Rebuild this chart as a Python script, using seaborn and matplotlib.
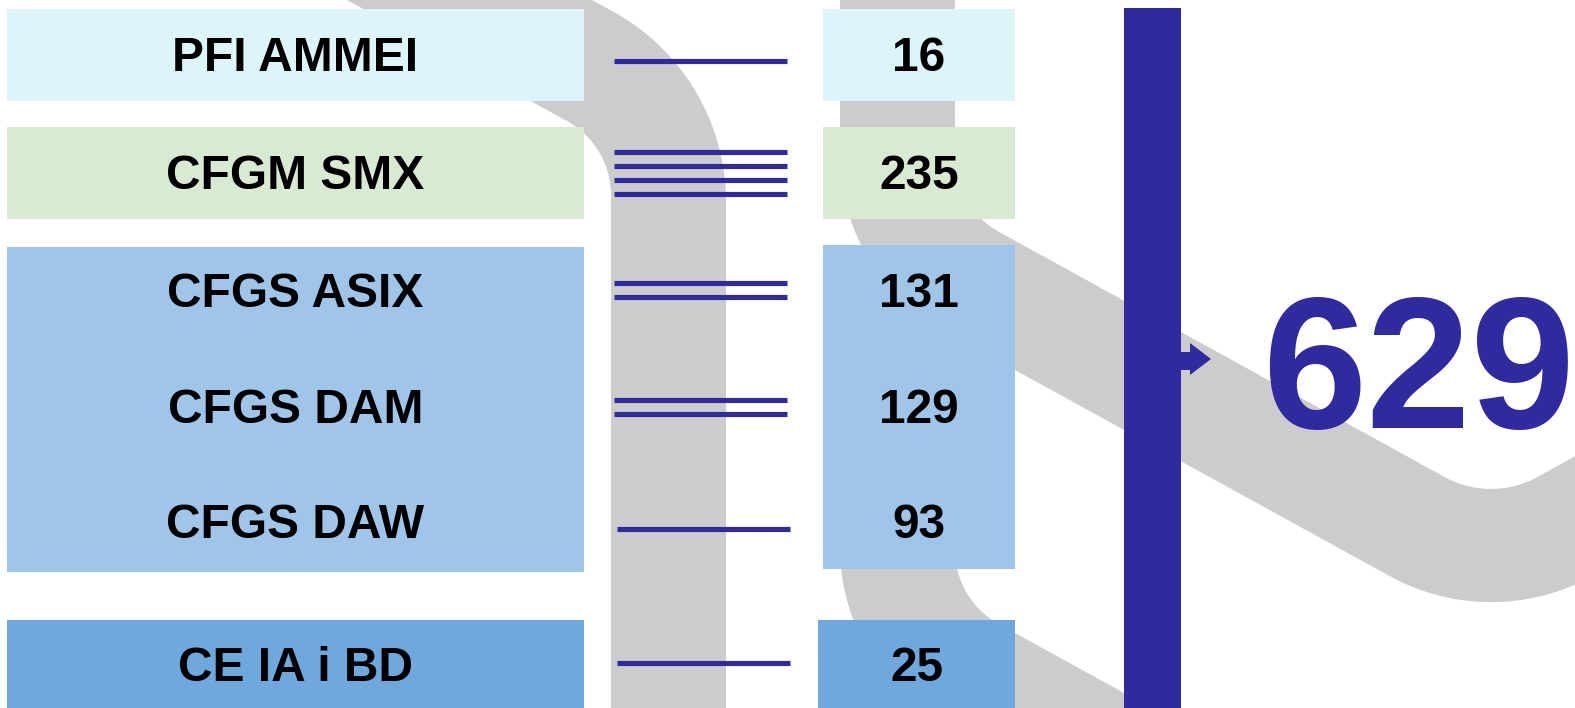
import numpy as np
import pandas as pd
import matplotlib
matplotlib.use("Agg")
import matplotlib.pyplot as plt
from matplotlib.patches import Rectangle, Polygon
import seaborn as sns

# ---------------- data ----------------
labels = ["PFI AMMEI", "CFGM SMX", "CFGS ASIX", "CFGS DAM", "CFGS DAW", "CE IA i BD"]
values = [16, 235, 131, 129, 93, 25]
groups = [1, 4, 2, 2, 1, 1]          # number of lines drawn per programme
levels = ["PFI", "CFGM", "CFGS", "CFGS", "CFGS", "CE"]
level_names = ["PFI", "CFGM", "CFGS", "CE"]
level_colors = ["#DDF4F9", "#D9EAD3", "#9FC5E8", "#6FA8DC"]
total = sum(values)

# ---------------- style ----------------
sns.set_theme(style="white")
plt.rcParams["font.family"] = ["Liberation Sans", "DejaVu Sans"]
DARK = "#2F2A9F"
GRAY = "#CCCCCC"

W, H = 1575, 708
fig = plt.figure(figsize=(W / 100, H / 100), dpi=100)
ax = fig.add_axes([0, 0, 1, 1])

# ---------------- layout (pixels) ----------------
left_box_x = (7, 584)
level_left_y = {"PFI": (9, 101), "CFGM": (127, 219), "CFGS": (247, 572), "CE": (620, 720)}
level_num_y = {"PFI": (9, 101), "CFGM": (127, 219), "CFGS": (245, 569), "CE": (620, 720)}
num_box_x = [(823, 1015), (823, 1015), (823, 1015), (823, 1015), (823, 1015), (818, 1015)]
baselines = [71, 189, 307, 423, 538, 681]
line_centers = [61, 173, 290, 407, 529, 663]
line_x = [(614, 787)] * 4 + [(617, 790)] * 2
line_gap = 14


def fillet(points, radii, n=60):
    pts = [np.array(p, float) for p in points]
    out = [pts[0]]
    for i in range(1, len(pts) - 1):
        A, B, C = pts[i - 1], pts[i], pts[i + 1]
        r = radii[i - 1]
        u1 = (A - B) / np.linalg.norm(A - B)
        u2 = (C - B) / np.linalg.norm(C - B)
        half = np.arccos(np.clip(u1 @ u2, -1, 1)) / 2
        t = r / np.tan(half)
        T1, T2 = B + u1 * t, B + u2 * t
        bis = (u1 + u2) / np.linalg.norm(u1 + u2)
        Cc = B + bis * r / np.sin(half)
        a1 = np.arctan2(T1[1] - Cc[1], T1[0] - Cc[0])
        a2 = np.arctan2(T2[1] - Cc[1], T2[0] - Cc[0])
        d = (a2 - a1 + np.pi) % (2 * np.pi) - np.pi
        for a in np.linspace(a1, a1 + d, n):
            out.append(Cc + r * np.array([np.cos(a), np.sin(a)]))
    out.append(pts[-1])
    return np.array(out)


def band(left, lr, right, rr):
    e1 = fillet(left, lr)
    e2 = fillet(right, rr)
    poly = np.vstack([e1, e2[::-1]])
    ax.add_patch(Polygon(poly, closed=True, facecolor=GRAY, edgecolor="none", zorder=1))


# background grey bands
band([(247, -55), (611, 145.2), (611, 760)], [85],
     [(492, -55), (726, 73.7), (726, 760)], [217])
band([(840, -60), (840, 273.75), (1491, 631.8), (1800, 461.9)], [200, 210],
     [(955, -60), (955, 207.7), (1491, 502.5), (1800, 332.5)], [85, 96])
band([(840, 300), (840, 666), (1400, 974)], [200],
     [(955, 300), (955, 600), (1400, 844.75)], [85])

# label boxes and number boxes
for lv, col in zip(level_names, level_colors):
    y0, y1 = level_left_y[lv]
    ax.add_patch(Rectangle((left_box_x[0], y0), left_box_x[1] - left_box_x[0], y1 - y0,
                           facecolor=col, edgecolor="none", zorder=2))
    idx = levels.index(lv)
    nx0, nx1 = num_box_x[idx]
    ny0, ny1 = level_num_y[lv]
    ax.add_patch(Rectangle((nx0, ny0), nx1 - nx0, ny1 - ny0,
                           facecolor=col, edgecolor="none", zorder=2))

# blue lines (one per group) drawn with seaborn
rows = []
seg = 0
for i, g in enumerate(groups):
    offs = (np.arange(g) - (g - 1) / 2) * line_gap
    for o in offs:
        for xx in line_x[i]:
            rows.append({"x": xx, "y": line_centers[i] + o, "seg": seg})
        seg += 1
df = pd.DataFrame(rows)
sns.lineplot(data=df, x="x", y="y", units="seg", estimator=None, sort=False,
             color=DARK, linewidth=3.7, ax=ax, legend=False, zorder=3,
             solid_capstyle="butt")

# texts
for i, (lab, val) in enumerate(zip(labels, values)):
    ax.text(sum(left_box_x) / 2, baselines[i], lab, ha="center", va="baseline",
            fontsize=34.5, fontweight="bold", color="black", zorder=5)
    ax.text(sum(num_box_x[i]) / 2, baselines[i], str(val), ha="center", va="baseline",
            fontsize=34.5, fontweight="bold", color="black", zorder=5)

# big bar, arrow and total
ax.add_patch(Rectangle((1124, 8), 57, 720, facecolor=DARK, edgecolor="none", zorder=4))
ax.add_patch(Polygon([(1180, 352), (1190, 352), (1190, 343), (1211, 359),
                      (1190, 375), (1190, 370), (1180, 370)],
                     closed=True, facecolor=DARK, edgecolor="none", zorder=4))
ax.text(1419, 428, str(total), ha="center", va="baseline", fontsize=135,
        fontweight="bold", color=DARK, zorder=5)

ax.set_xlim(0, W)
ax.set_ylim(H, 0)
ax.axis("off")
fig.savefig("out.png", dpi=100)
